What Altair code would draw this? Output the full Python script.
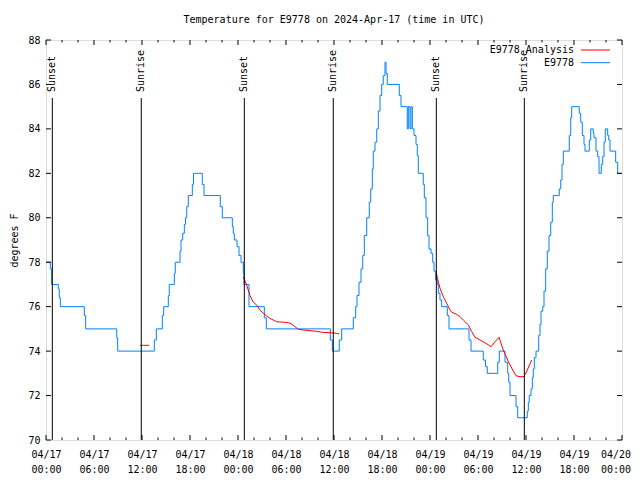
import altair as alt
import pandas as pd

FONT = "DejaVu Sans Mono"

# ---- observed temperature (step series): hours since 04/17 00:00 UTC, degrees F
obs_hours = [0.0, 0.54, 0.71, 1.54, 1.66, 1.79, 4.79, 4.96, 8.84, 8.96,
             13.54, 13.79, 14.54, 14.71, 15.29, 15.41, 16.04, 16.16, 16.75, 16.875,
             17.09, 17.29, 17.44, 17.59, 17.79, 18.29, 18.44, 19.54, 19.75, 21.79,
             22.04, 23.29, 23.41, 23.54, 23.875, 24.125, 24.375, 24.66, 24.75, 25.375,
             27.29, 27.54, 35.54, 35.79, 36.66, 36.96, 38.41, 38.71, 38.875, 39.125,
             39.375, 39.59, 39.79, 40.09, 40.41, 40.59, 40.79, 40.91, 41.125, 41.34,
             41.54, 41.75, 41.96, 42.16, 42.375, 42.5, 42.66, 44.16, 44.375, 45.16,
             45.29, 45.5, 45.625, 45.79, 46.0, 46.25, 46.41, 46.54, 47.16, 47.29,
             47.5, 47.71, 47.875, 48.125, 48.34, 48.5, 48.71, 48.91, 49.04, 49.25,
             49.46, 50.16, 50.375, 52.875, 53.125, 54.66, 54.94, 55.16, 56.46, 56.66,
             57.375, 57.71, 57.84, 58.0, 58.75, 58.96, 60.16, 60.29, 60.41, 60.625,
             60.79, 60.91, 61.04, 61.25, 61.59, 61.75, 61.875, 62.09, 62.25, 62.46,
             62.66, 62.875, 63.09, 63.29, 63.41, 64.16, 64.34, 64.5, 64.66, 65.41,
             65.59, 65.71, 66.66, 66.84, 67.04, 67.25, 67.375, 67.91, 68.09, 68.41,
             68.5, 68.75, 68.96, 69.125, 69.41, 69.59, 69.75, 69.91, 70.21, 70.34,
             70.5, 71.21, 71.46, 71.9]
obs_temps = [78, 77.7, 77, 76.8, 76.4, 76, 75.6, 75, 74.6, 74,
             74.5, 75, 75.6, 76, 76.5, 77, 77.5, 78, 78.5, 79,
             79.3, 79.7, 80, 80.5, 81, 81.5, 82, 81.5, 81, 80.5,
             80, 79.6, 79.3, 79, 78.7, 78.3, 78, 77.5, 77, 76,
             75.5, 75, 74.5, 74, 74.5, 75, 75.5, 76, 76.5, 77.1,
             77.7, 78.3, 79.2, 80, 80.7, 81.3, 82.2, 83, 83.4, 84,
             84.8, 85.5, 86, 86.4, 87, 86.5, 86, 85.5, 85, 84,
             85, 84, 85, 84, 83.7, 83.3, 82.8, 82, 81.5, 80.9,
             80, 79.2, 78.6, 78.4, 78, 77.6, 77.2, 77, 76.6, 76.3,
             76, 75.6, 75, 74.5, 74, 73.6, 73.3, 73, 73.5, 74,
             73.5, 73, 72.6, 72, 71.5, 71, 71.3, 71.7, 72, 72.3,
             72.8, 73.2, 73.7, 74, 74.7, 75.2, 75.8, 76, 76.7, 77.7,
             78.5, 79.2, 79.8, 80.7, 81, 81.3, 81.7, 82.4, 83, 83.7,
             84.5, 85, 84.7, 84.3, 83.7, 83.3, 83, 83.5, 84, 83.8,
             83.6, 83, 82.75, 82, 82.4, 82.75, 83.4, 84, 83.7, 83.5,
             83, 82.5, 82, 82]

# ---- analysis series (three separate pieces)
ana_seg = [1, 1] + [2] * 23 + [3] * 26
ana_hours = [11.75, 12.875,
             24.66, 25.09, 25.5, 25.91, 26.34, 26.75, 27.16, 27.59, 28.0, 28.41,
             28.84, 29.66, 30.29, 30.71, 31.125, 31.54, 32.16, 33.0, 33.84, 34.66,
             35.5, 36.34, 36.66,
             48.75, 49.04, 49.25, 49.66, 50.09, 50.5, 50.71, 51.34, 51.75, 52.16,
             52.79, 53.21, 53.625, 54.25, 54.875, 55.625, 56.125, 56.625, 57.16, 57.79,
             58.34, 58.75, 59.25, 59.75, 60.16, 60.71]
ana_temps = [74.26, 74.26,
             77.35, 76.97, 76.5, 76.2, 76.07, 75.85, 75.7, 75.58, 75.47, 75.4,
             75.32, 75.3, 75.28, 75.22, 75.1, 74.98, 74.95, 74.92, 74.89, 74.84,
             74.83, 74.8, 74.77,
             77.58, 77.13, 76.83, 76.45, 76.15, 75.85, 75.75, 75.65, 75.55, 75.4,
             75.18, 74.88, 74.62, 74.5, 74.38, 74.2, 74.42, 74.62, 74.05, 73.53,
             73.15, 72.89, 72.85, 72.85, 73.15, 73.6]

# ---- sun events
event_hours = [0.79, 11.91, 24.79, 35.91, 48.79, 59.79]
event_labels = ["Sunset", "Sunrise", "Sunset", "Sunrise", "Sunset", "Sunrise"]

# ---- axis ticks / labels
x_tick_hours = list(range(0, 73, 6))
x_tick_dates = ["04/17", "04/17", "04/17", "04/17", "04/18", "04/18", "04/18",
                "04/18", "04/19", "04/19", "04/19", "04/19", "04/20"]
x_tick_times = ["00:00", "06:00", "12:00", "18:00"] * 3 + ["00:00"]
x_minor_hours = [h for h in range(0, 73, 2) if h % 6]
y_tick_values = list(range(70, 89, 2))

legend_names = ["E9778 Analysis", "E9778"]
legend_colors = ["#ff0000", "#0080ff"]

title_text = "Temperature for E9778 on 2024-Apr-17 (time in UTC)"

W, H = 576, 400

obs = pd.DataFrame({"h": obs_hours, "v": obs_temps})
ana = pd.DataFrame({"h": ana_hours, "v": ana_temps, "seg": ana_seg})
events = pd.DataFrame({"h": event_hours, "label": event_labels})
xmaj = pd.DataFrame({"h": x_tick_hours})
xmin = pd.DataFrame({"h": x_minor_hours})
yt = pd.DataFrame({"v": y_tick_values})
last_lbl = pd.DataFrame({"h": [x_tick_hours[-1]],
                         "t": [x_tick_dates[-1] + "\n" + x_tick_times[-1]]})

# all labels but the last go on the axis; the last one is drawn as text so it fits the page
label_arr = "[" + ",".join(f"['{d}','{t}']" for d, t in
                           zip(x_tick_dates[:-1], x_tick_times[:-1])) + ",'']"

x_enc = alt.X("h:Q", scale=alt.Scale(domain=[0, 72], nice=False, zero=False),
              axis=alt.Axis(values=x_tick_hours, tickSize=0, domain=False, grid=False,
                            labelExpr=label_arr + "[round(datum.value/6)]",
                            labelFont=FONT, labelFontSize=10, labelColor="black",
                            labelPadding=9, labelLineHeight=15, labelFlush=False,
                            labelOverlap=False, title=None))
y_enc = alt.Y("v:Q", scale=alt.Scale(domain=[70, 88], nice=False, zero=False),
              axis=alt.Axis(values=y_tick_values, tickSize=0, domain=False, grid=False,
                            labelFont=FONT, labelFontSize=10, labelColor="black",
                            labelPadding=6, title="degrees F", titleFont=FONT,
                            titleFontSize=10, titleFontWeight="normal", titleColor="black",
                            titleAngle=270, titleX=-32, titleY=200, titleBaseline="middle",
                            titleAlign="center"))

obs_line = alt.Chart(obs).mark_line(interpolate="step-after", color=legend_colors[1],
                                    strokeWidth=1).encode(x=x_enc, y=y_enc)
ana_line = alt.Chart(ana).mark_line(color=legend_colors[0], strokeWidth=1).encode(
    x=x_enc, y=y_enc, detail="seg:N")

ev_rules = alt.Chart(events).mark_rule(color="black", strokeWidth=1).encode(
    x=x_enc, y=alt.value(58), y2=alt.value(H))
ev_text = alt.Chart(events).mark_text(font=FONT, fontSize=10, angle=270, align="left",
                                      baseline="middle", color="black").encode(
    x=x_enc, y=alt.value(52), text="label:N")

last_text = alt.Chart(last_lbl).mark_text(font=FONT, fontSize=10, align="right",
                                          baseline="top", color="black", dx=9, dy=1,
                                          lineBreak="\n", lineHeight=15).encode(
    x=x_enc, y=alt.value(H + 9), text="t:N")

def xticks(df, length):
    bottom = alt.Chart(df).mark_rule(color="black", strokeWidth=1).encode(
        x=x_enc, y=alt.value(H), y2=alt.value(H - length))
    top = alt.Chart(df).mark_rule(color="black", strokeWidth=1).encode(
        x=x_enc, y=alt.value(0), y2=alt.value(length))
    return [bottom, top]

yl = alt.Chart(yt).mark_rule(color="black", strokeWidth=1).encode(
    y=y_enc, x=alt.value(0), x2=alt.value(5))
yr = alt.Chart(yt).mark_rule(color="black", strokeWidth=1).encode(
    y=y_enc, x=alt.value(W - 5), x2=alt.value(W))

legend_layers = []
for i, (name, col) in enumerate(zip(legend_names, legend_colors)):
    d = pd.DataFrame({"name": [name]})
    yy = 10 + i * 12.7
    legend_layers.append(alt.Chart(d).mark_text(font=FONT, fontSize=10, align="right",
                                                baseline="middle", color="black").encode(
        text="name:N", x=alt.value(528), y=alt.value(yy)))
    legend_layers.append(alt.Chart(d).mark_rule(color=col, strokeWidth=1).encode(
        x=alt.value(535), x2=alt.value(564), y=alt.value(yy)))

title_layer = alt.Chart(pd.DataFrame({"t": [title_text]})).mark_text(
    font=FONT, fontSize=10, align="center", baseline="middle", color="black").encode(
    text="t:N", x=alt.value(W / 2), y=alt.value(-20))

chart = alt.layer(
    obs_line, ana_line, ev_rules, ev_text, last_text,
    *xticks(xmaj, 5), *xticks(xmin, 2.5), yl, yr, *legend_layers, title_layer
).properties(
    width=W, height=H,
    autosize=alt.AutoSizeParams(type="none"),
    padding={"left": 38, "top": 32, "right": 10, "bottom": 36},
).configure_view(stroke="black", strokeWidth=1).configure(background="white")

chart.save("out.html", embed_options={"renderer": "svg", "actions": False})
